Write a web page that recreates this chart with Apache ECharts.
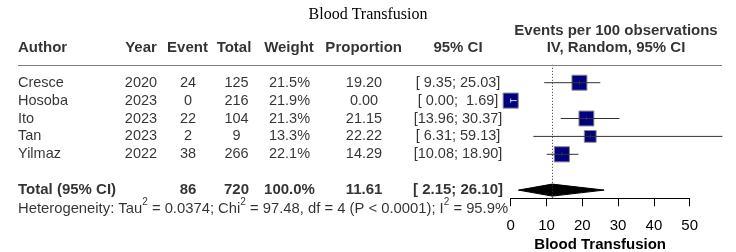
<!DOCTYPE html>
<html>
<head>
<meta charset="utf-8">
<script src="https://cdn.jsdelivr.net/npm/echarts@6/dist/echarts.min.js"></script>
<style>
  html, body { margin: 0; padding: 0; background: #fff; }
  #chart { width: 736px; height: 252px; }
</style>
</head>
<body>
<div id="chart"></div>
<script>
// study data
const authors = ['Cresce', 'Hosoba', 'Ito', 'Tan', 'Yilmaz']
const years = [2020, 2023, 2023, 2023, 2022]
const events = [24, 0, 22, 2, 38]
const totals = [125, 216, 104, 9, 266]
const weights = [21.5, 21.9, 21.3, 13.3, 22.1]
const proportions = [19.2, 0.0, 21.15, 22.22, 14.29]
const ciLower = [9.35, 0.0, 13.96, 6.31, 10.08]
const ciUpper = [25.03, 1.69, 30.37, 59.13, 18.9]
// pooled result
const pooledEvents = 86
const pooledTotal = 720
const pooledWeight = 100.0
const pooledEst = 11.61
const pooledLower = 2.15
const pooledUpper = 26.1
// heterogeneity
const tau2 = '0.0374'
const chi2 = '97.48'
const hetDf = 4
const hetP = '< 0.0001'
const i2 = '95.9'
// axis ticks
const xTicks = [0, 10, 20, 30, 40, 50]

const FONT = 'Liberation Sans, Arial, sans-serif'
const totalRow = authors.length + 1
const hetRow = totalRow + 1.07
const headRow = -1.92
const headRow2 = -2.89

const pad5 = (v) => {
  const s = v.toFixed(2)
  return s.length < 5 ? ' ' + s : s
}
const ciText = (lo, hi) => `[${pad5(lo)}; ${pad5(hi)}]`

// table columns: x position and alignment (layout only)
const cols = [
  { key: 'author', x: 18, hx: 18, align: 'left', head: 'Author' },
  { key: 'year', x: 141, hx: 141, align: 'center', head: 'Year' },
  { key: 'event', x: 188, hx: 187.5, align: 'center', head: 'Event' },
  { key: 'total', x: 236.5, hx: 234, align: 'center', head: 'Total' },
  { key: 'weight', x: 289.5, hx: 289, align: 'center', head: 'Weight' },
  { key: 'prop', x: 364, hx: 363.7, align: 'center', head: 'Proportion' },
  { key: 'ci', x: 458, hx: 458, align: 'center', head: '95% CI' }
]

const rowText = (i) => ({
  author: authors[i],
  year: String(years[i]),
  event: String(events[i]),
  total: String(totals[i]),
  weight: weights[i].toFixed(1) + '%',
  prop: proportions[i].toFixed(2),
  ci: ciText(ciLower[i], ciUpper[i])
})
const totalText = {
  author: 'Total (95% CI)',
  year: '',
  event: String(pooledEvents),
  total: String(pooledTotal),
  weight: pooledWeight.toFixed(1) + '%',
  prop: pooledEst.toFixed(2),
  ci: ciText(pooledLower, pooledUpper)
}

const cell = (x, row, text, align, bold) => ({
  value: [x, row],
  label: { formatter: text, align: align, fontWeight: bold ? 'bold' : 'normal', fontSize: bold ? 15 : 14.5 }
})

const tableData = []
cols.forEach((c) => {
  tableData.push(cell(c.hx, headRow, c.head, c.align, true))
  authors.forEach((a, i) => {
    tableData.push(cell(c.x, i, rowText(i)[c.key], c.align, false))
  })
  if (totalText[c.key]) tableData.push(cell(c.x, totalRow, totalText[c.key], c.align, true))
})
tableData.push(cell(616, headRow2, 'Events per 100 observations', 'center', true))
tableData.push(cell(616, headRow, 'IV, Random, 95% CI', 'center', true))
tableData.push({
  value: [18, hetRow],
  label: {
    align: 'left',
    formatter: `{n|Heterogeneity: Tau}{s|2}{n| = ${tau2}; Chi}{s|2}{n| = ${chi2}, df = ${hetDf} (P ${hetP}); I}{s|2}{n| = ${i2}%}`,
    rich: {
      n: { fontSize: 14.8, fontFamily: FONT, color: '#000', lineHeight: 24 },
      s: { fontSize: 10, fontFamily: FONT, color: '#000', lineHeight: 10, verticalAlign: 'top' }
    }
  }
})

const renderStudy = (params, api) => {
  const row = api.value(3)
  const c = api.coord([api.value(0), row])
  const l = api.coord([api.value(1), row])
  const r = api.coord([api.value(2), row])
  const side = 3.23 * Math.sqrt(api.value(4))
  const inside = l[0] >= c[0] - side / 2 && r[0] <= c[0] + side / 2
  const lineColor = inside ? '#d8d8d8' : '#333'
  return {
    type: 'group',
    children: [
      {
        type: 'rect',
        shape: { x: c[0] - side / 2, y: c[1] - side / 2, width: side, height: side },
        style: { fill: '#000080', stroke: '#8a8a8a', lineWidth: 1 }
      },
      {
        type: 'line',
        shape: { x1: l[0], y1: c[1], x2: r[0], y2: c[1] },
        style: { stroke: lineColor, lineWidth: 1 }
      },
      {
        type: 'line',
        shape: { x1: c[0], y1: c[1] - 2, x2: c[0], y2: c[1] + 2 },
        style: { stroke: lineColor, lineWidth: 1 }
      }
    ]
  }
}

const renderDiamond = (params, api) => {
  const row = api.value(3)
  const c = api.coord([api.value(0), row])
  const l = api.coord([api.value(1), row])
  const r = api.coord([api.value(2), row])
  const h = 6
  return {
    type: 'polygon',
    shape: { points: [[l[0], c[1]], [c[0], c[1] - h], [r[0], c[1]], [c[0], c[1] + h]] },
    style: { fill: '#000', stroke: '#000', lineWidth: 1 }
  }
}

const pxPerUnit = 3.58
const plotLeft = 510.7
const rowTop = 64.8
const rowHeight = 17.9 * 7.5

const option = {
  animation: false,
  title: {
    text: 'Blood Transfusion',
    left: 'center',
    top: 2,
    textStyle: { fontFamily: 'Liberation Serif, serif', fontWeight: 'normal', fontSize: 16, color: '#000' }
  },
  grid: [
    { left: plotLeft, top: rowTop, width: 60 * pxPerUnit, height: rowHeight },
    { left: plotLeft, top: 198, width: 50 * pxPerUnit, height: 1 },
    { left: 18, top: rowTop, width: 704, height: rowHeight }
  ],
  xAxis: [
    { gridIndex: 0, type: 'value', min: 0, max: 60, show: false },
    {
      gridIndex: 1,
      type: 'value',
      min: xTicks[0],
      max: xTicks[xTicks.length - 1],
      interval: xTicks[1] - xTicks[0],
      axisLine: { show: true, lineStyle: { color: '#000', width: 1 } },
      axisTick: { show: true, inside: false, length: 8, lineStyle: { color: '#000' } },
      axisLabel: { fontSize: 15, fontFamily: FONT, color: '#000', margin: 20 },
      splitLine: { show: false },
      name: 'Blood Transfusion',
      nameLocation: 'middle',
      nameGap: 39,
      nameTextStyle: { fontSize: 15, fontWeight: 'bold', fontFamily: FONT, color: '#000' }
    },
    { gridIndex: 2, type: 'value', min: 18, max: 722, show: false }
  ],
  yAxis: [
    { gridIndex: 0, type: 'value', min: -1, max: 6.5, inverse: true, show: false },
    { gridIndex: 1, type: 'value', show: false },
    { gridIndex: 2, type: 'value', min: -1, max: 6.5, inverse: true, show: false }
  ],
  series: [
    {
      type: 'custom',
      xAxisIndex: 0,
      yAxisIndex: 0,
      silent: true,
      renderItem: renderDiamond,
      data: [[pooledEst, pooledLower, pooledUpper, totalRow]],
      markLine: {
        silent: true,
        symbol: 'none',
        label: { show: false },
        lineStyle: { color: '#333', type: [1, 2], width: 1 },
        data: [{ xAxis: pooledEst }]
      }
    },
    {
      type: 'custom',
      xAxisIndex: 0,
      yAxisIndex: 0,
      silent: true,
      renderItem: renderStudy,
      data: proportions.map((p, i) => [p, ciLower[i], ciUpper[i], i, weights[i]])
    },
    {
      type: 'scatter',
      xAxisIndex: 2,
      yAxisIndex: 2,
      silent: true,
      clip: false,
      symbolSize: 0,
      label: {
        show: true,
        position: 'inside',
        verticalAlign: 'middle',
        fontSize: 14.5,
        fontFamily: FONT,
        color: '#000'
      },
      data: tableData,
      markLine: {
        silent: true,
        symbol: 'none',
        label: { show: false },
        lineStyle: { color: '#808080', type: 'solid', width: 1 },
        data: [{ yAxis: -1 }]
      }
    }
  ]
}

const myChart = echarts.init(document.getElementById('chart'))
myChart.setOption(option)
</script>
</body>
</html>
